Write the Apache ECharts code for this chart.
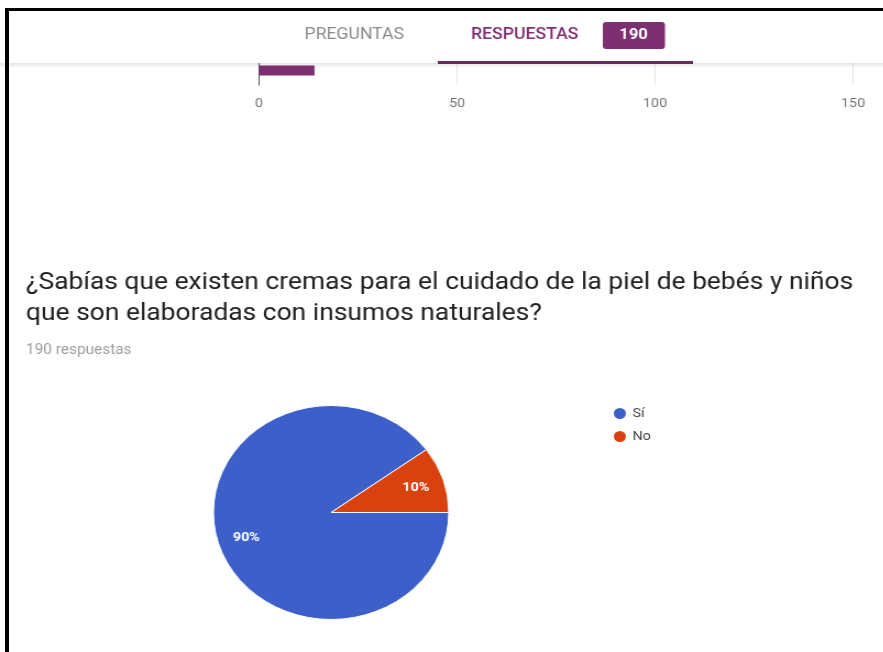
<!DOCTYPE html>
<html><head><meta charset="utf-8">
<script src="https://cdn.jsdelivr.net/npm/echarts@6/dist/echarts.min.js"></script>
<style>
html,body{margin:0;padding:0;background:#fff;width:883px;height:652px;overflow:hidden;}
#wrap{position:absolute;left:0;top:0;width:803px;height:652px;transform:scaleX(1.1);transform-origin:0 0;}
#chart{width:803px;height:652px;}
.bl{position:absolute;left:5px;top:8px;width:4px;height:644px;background:#000;}
.bt{position:absolute;left:5px;top:8px;width:878px;height:3px;background:#000;}
</style></head><body>
<div id="wrap"><div id="chart"></div></div>
<div class="bl"></div><div class="bt"></div>
<script>
// ---- data ----
const tabLabels = ['PREGUNTAS', 'RESPUESTAS'];
const responseBadge = '190';
const barCategories = ['Otro'];
const barValues = [14];
const axisMin = 0, axisMax = 150, axisStep = 50;
const titleLines = ['¿Sabías que existen cremas para el cuidado de la piel de bebés y niños',
                    'que son elaboradas con insumos naturales?'];
const subtitleText = '190 respuestas';
const pieCategories = ['Sí', 'No'];
const pieValues = [171, 19];
const pieColors = ['#3d5fca', '#d9420f'];
const purple = '#7e2f72';

const FONT = 'Roboto, "Noto Sans", sans-serif';
const chart = echarts.init(document.getElementById('chart'), null, {renderer: 'canvas'});
const pieData = pieCategories.map((n, i) => ({name: n, value: pieValues[i], itemStyle: {color: pieColors[i]}}));

chart.setOption({
  animation: false,
  backgroundColor: '#fff',
  textStyle: {fontFamily: FONT},
  title: [
    {text: titleLines.join('\n'), left: 23.6, top: 267.5, padding: 0,
     textStyle: {fontSize: 24, fontWeight: 'normal', color: '#212121', lineHeight: 31, fontFamily: FONT}},
    {text: subtitleText, left: 23.6, top: 342, padding: 0,
     textStyle: {fontSize: 14, fontWeight: 'normal', color: '#9e9e9e', lineHeight: 16, fontFamily: FONT}}
  ],
  legend: {
    orient: 'vertical', left: 556, top: 406, padding: 0, itemWidth: 13, itemHeight: 13, itemGap: 8,
    icon: 'circle', data: pieCategories,
    textStyle: {fontSize: 13, color: '#444', lineHeight: 14, fontFamily: FONT}
  },
  grid: {left: 235.5, right: 27.5, top: 56, bottom: 567},
  xAxis: {
    type: 'value', min: axisMin, max: axisMax, interval: axisStep,
    axisLine: {show: false}, axisTick: {show: false},
    axisLabel: {color: '#757575', fontSize: 13, margin: 12, fontFamily: FONT},
    splitLine: {lineStyle: {color: '#e6e6e6'}}
  },
  yAxis: {
    type: 'category', data: barCategories,
    axisLine: {show: true, lineStyle: {color: '#555'}}, axisTick: {show: false}, axisLabel: {show: false}
  },
  series: [
    {type: 'bar', data: barValues, barWidth: 10, itemStyle: {color: purple}, silent: true},
    {type: 'pie', center: [301, 512.5], radius: 107, startAngle: 0, clockwise: true,
     data: pieData, label: {show: false}, labelLine: {show: false},
     itemStyle: {borderColor: '#fff', borderWidth: 1}, emphasis: {disabled: true}, silent: true},
    {type: 'pie', center: [301, 512.5], radius: [49, 107], startAngle: 0, clockwise: true,
     data: pieData.map(d => ({name: d.name, value: d.value, itemStyle: {color: 'rgba(0,0,0,0)'}})),
     percentPrecision: 0,
     label: {show: true, position: 'inside', formatter: '{d}%', color: '#fff', fontSize: 13, fontWeight: 'bold', fontFamily: FONT},
     labelLine: {show: false}, emphasis: {disabled: true}, silent: true}
  ],
  graphic: [
    {type: 'rect', z: 100, shape: {x: 0, y: 0, width: 803, height: 63}, style: {fill: '#fff'}},
    {type: 'rect', z: 100, shape: {x: 0, y: 63, width: 803, height: 5},
     style: {fill: new echarts.graphic.LinearGradient(0, 0, 0, 1, [{offset: 0, color: 'rgba(0,0,0,0.10)'}, {offset: 1, color: 'rgba(0,0,0,0)'}])}},
    {type: 'text', z: 101, x: 322, y: 35, style: {text: tabLabels[0], fill: '#8a8a8a', font: 'normal 16px ' + FONT, textAlign: 'center', textVerticalAlign: 'middle'}},
    {type: 'text', z: 101, x: 477, y: 35, style: {text: tabLabels[1], fill: purple, font: '500 16px ' + FONT, textAlign: 'center', textVerticalAlign: 'middle'}},
    {type: 'rect', z: 101, shape: {x: 548, y: 22, width: 56.5, height: 27, r: 3}, style: {fill: purple}},
    {type: 'text', z: 102, x: 576, y: 35.5, style: {text: responseBadge, fill: '#fff', font: 'bold 15px ' + FONT, textAlign: 'center', textVerticalAlign: 'middle'}},
    {type: 'rect', z: 101, shape: {x: 398, y: 61, width: 232, height: 3}, style: {fill: '#6a2c60'}}
  ]
});
</script>
</body></html>
